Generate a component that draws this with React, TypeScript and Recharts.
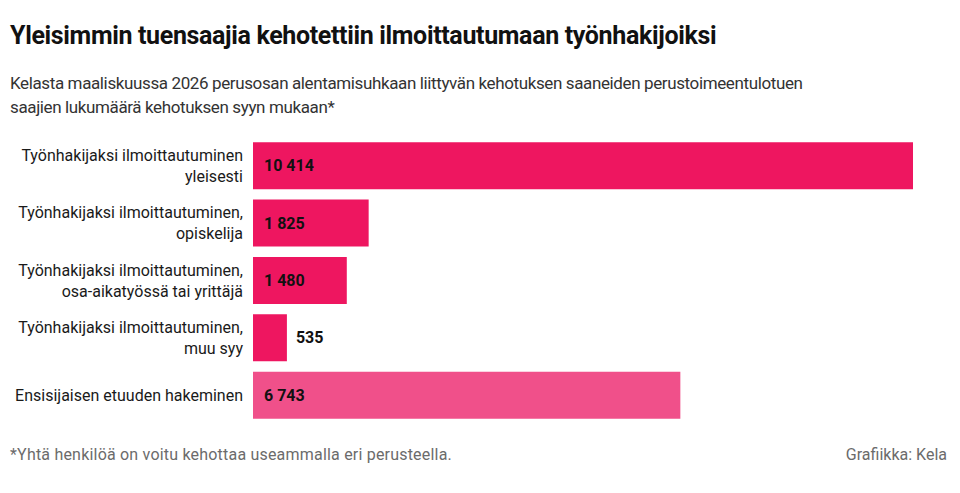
import React from "react";
import { BarChart, Bar, XAxis, YAxis, Cell, LabelList } from "recharts";

const categories: string[][] = [
  ["Työnhakijaksi ilmoittautuminen", "yleisesti"],
  ["Työnhakijaksi ilmoittautuminen,", "opiskelija"],
  ["Työnhakijaksi ilmoittautuminen,", "osa-aikatyössä tai yrittäjä"],
  ["Työnhakijaksi ilmoittautuminen,", "muu syy"],
  ["Ensisijaisen etuuden hakeminen"],
];
const values: number[] = [10414, 1825, 1480, 535, 6743];
const barColors: string[] = ["#EE1660", "#EE1660", "#EE1660", "#EE1660", "#F0508A"];

const title = "Yleisimmin tuensaajia kehotettiin ilmoittautumaan työnhakijoiksi";
const subtitle1 =
  "Kelasta maaliskuussa 2026 perusosan alentamisuhkaan liittyvän kehotuksen saaneiden perustoimeentulotuen";
const subtitle2 = "saajien lukumäärä kehotuksen syyn mukaan*";
const footnote = "*Yhtä henkilöä on voitu kehottaa useammalla eri perusteella.";
const credit = "Grafiikka: Kela";

const data = categories.map((lines, i) => ({
  key: String(i),
  lines,
  value: values[i],
}));

const FONT = "Roboto, 'Noto Sans', sans-serif";

const fmt = (v: number) => {
  const s = String(Math.round(v));
  return s.replace(/\B(?=(\d{3})+(?!\d))/g, "\u00A0");
};

const CategoryTick = (props: any) => {
  const { x, y, payload } = props;
  const lines: string[] = categories[Number(payload.value)] || [];
  const lh = 21;
  const start = -((lines.length - 1) * lh) / 2;
  return (
    <text
      x={x}
      y={y}
      textAnchor="end"
      fill="#1a1a1a"
      fontSize={16}
      fontFamily={FONT}
    >
      {lines.map((l, i) => (
        <tspan key={i} x={x} y={y + start + i * lh} dy="0.35em">
          {l}
        </tspan>
      ))}
    </text>
  );
};

const ValueLabel = (props: any) => {
  const { x, y, width, height, value } = props;
  const inside = width > 60;
  const tx = inside ? x + 11 : x + width + 9;
  return (
    <text
      x={tx}
      y={y + height / 2}
      dy="0.35em"
      fill="#111"
      fontSize={16}
      fontWeight={700}
      fontFamily={FONT}
    >
      {fmt(value)}
    </text>
  );
};

export default function App() {
  return (
    <div
      style={{
        position: "absolute",
        left: 0,
        top: 0,
        width: 960,
        height: 493,
        background: "#fff",
        fontFamily: FONT,
        overflow: "hidden",
      }}
    >
      <div
        style={{
          position: "absolute",
          left: 10,
          top: 21,
          fontSize: 25,
          fontWeight: 700,
          color: "#111",
          letterSpacing: -0.35,
          whiteSpace: "nowrap",
          lineHeight: "30px",
        }}
      >
        {title}
      </div>
      <div
        style={{
          position: "absolute",
          left: 10,
          top: 71,
          fontSize: 17,
          color: "#333",
          whiteSpace: "nowrap",
          lineHeight: "24px",
          letterSpacing: -0.38,
        }}
      >
        <div>{subtitle1}</div>
        <div>{subtitle2}</div>
      </div>
      <div style={{ position: "absolute", left: 0, top: 0 }}>
        <BarChart
          width={960}
          height={493}
          data={data}
          layout="vertical"
          margin={{ top: 137, right: 47, bottom: 69, left: 8 }}
          barCategoryGap="9%"
        >
          <XAxis type="number" domain={[0, 10414]} hide />
          <YAxis
            type="category"
            dataKey="key"
            width={245}
            axisLine={false}
            tickLine={false}
            tickSize={0}
            tickMargin={10}
            tick={<CategoryTick />}
            interval={0}
          />
          <Bar dataKey="value" isAnimationActive={false}>
            {data.map((d, i) => (
              <Cell key={d.key} fill={barColors[i]} />
            ))}
            <LabelList dataKey="value" content={<ValueLabel />} />
          </Bar>
        </BarChart>
      </div>
      <div
        style={{
          position: "absolute",
          left: 10,
          top: 444,
          fontSize: 16,
          color: "#6b6b6b",
          whiteSpace: "nowrap",
          lineHeight: "22px",
          letterSpacing: 0.2,
        }}
      >
        {footnote}
      </div>
      <div
        style={{
          position: "absolute",
          right: 13,
          top: 444,
          fontSize: 16,
          color: "#6b6b6b",
          whiteSpace: "nowrap",
          lineHeight: "22px",
        }}
      >
        {credit}
      </div>
    </div>
  );
}
